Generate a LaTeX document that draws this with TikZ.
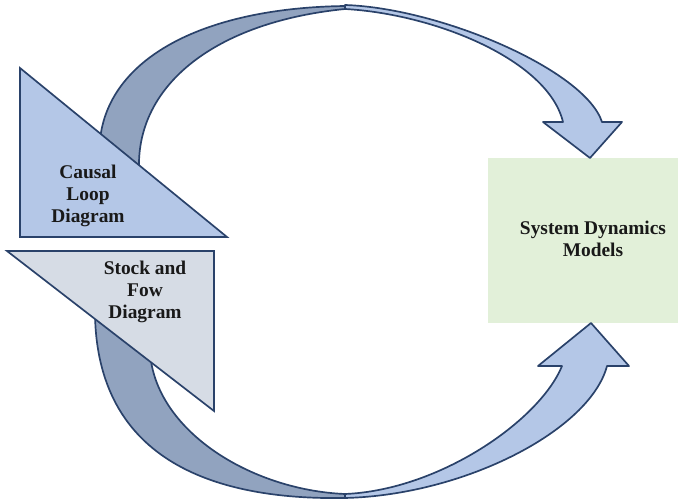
\documentclass[tikz,border=0pt]{standalone}
\usepackage{fontspec}
\setmainfont{Liberation Serif}
\usepackage{tikz}
\usetikzlibrary{positioning}
\definecolor{SD_Navy}{HTML}{2A426A}
\definecolor{SD_Back}{HTML}{91A3BF}
\definecolor{SD_Front}{HTML}{B4C7E7}
\definecolor{SD_Grey}{HTML}{D6DCE5}
\definecolor{SD_Green}{HTML}{E2F0D9}

\begin{document}
\begin{tikzpicture}[
    x=0.025cm, y=-0.025cm,
    band/.style={draw=SD_Navy, line width=1.2pt, line join=round},
    tri/.style={draw=SD_Navy, line width=1.2pt, line join=miter},
    txt/.style={font=\fontsize{13.8}{15.6}\selectfont\bfseries, align=center, text=black!90, inner sep=0pt}
]
\useasboundingbox (0,0) rectangle (678,499);

% model box
\fill[SD_Green] (488,158) rectangle (678,323);
\node[txt] (sdm) at (593,239) {System Dynamics\\Models};

% upper curved arrow (back half, then front half with head)
\path[band, fill=SD_Back] (100,140) .. controls (108,60) and (200,8) .. (345,6)
    -- (345,9) .. controls (215,22) and (137,85) .. (139,168) -- cycle;
\path[band, fill=SD_Front] (345,5) .. controls (440,8) and (585,70) .. (602,122)
    -- (622,122) -- (590,158) -- (543,122) -- (563,122)
    .. controls (548,60) and (435,14) .. (345,9) -- cycle;

% lower curved arrow
\path[band, fill=SD_Back] (95,315) .. controls (98,470) and (230,500) .. (345,498)
    -- (345,494) .. controls (250,490) and (155,430) .. (150,352) -- cycle;
\path[band, fill=SD_Front] (345,498) .. controls (465,495) and (590,430) .. (607,366)
    -- (629,366) -- (591,323) -- (538,366) -- (562,366)
    .. controls (540,420) and (440,490) .. (345,494) -- cycle;

% the two diagram triangles
\path[tri, fill=SD_Front] (20,68) -- (227,237) -- (20,237) -- cycle;
\path[tri, fill=SD_Grey] (7,251) -- (214,251) -- (214,411) -- cycle;

\node[txt] (cld) at (88,196) {Causal\\Loop\\Diagram};
\node[txt] (sfd) at (145,292) {Stock and\\Fow\\Diagram};
\end{tikzpicture}
\end{document}
